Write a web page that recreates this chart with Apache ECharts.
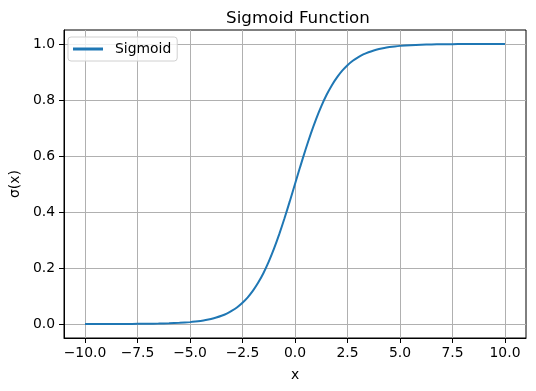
<!DOCTYPE html>
<html><head><meta charset="utf-8">
<script src="https://cdn.jsdelivr.net/npm/echarts@6/dist/echarts.min.js"></script>
<style>html,body{margin:0;padding:0;background:#fff}#c{width:536px;height:391px}</style>
</head><body><div id="c"></div>
<script>
const xValues = [-10,-9.5,-9,-8.5,-8,-7.5,-7,-6.5,-6,-5.5,-5,-4.75,-4.5,-4.25,-4,-3.75,-3.5,-3.25,-3,-2.75,-2.5,-2.25,-2,-1.75,-1.5,-1.25,-1,-0.75,-0.5,-0.25,0,0.25,0.5,0.75,1,1.25,1.5,1.75,2,2.25,2.5,2.75,3,3.25,3.5,3.75,4,4.25,4.5,4.75,5,5.5,6,6.5,7,7.5,8,8.5,9,9.5,10];
const sigmoidValues = [0.0000,0.0001,0.0001,0.0002,0.0003,0.0006,0.0009,0.0015,0.0025,0.0041,0.0067,0.0086,0.0110,0.0140,0.0180,0.0230,0.0293,0.0373,0.0474,0.0601,0.0759,0.0953,0.1192,0.1480,0.1824,0.2227,0.2689,0.3208,0.3775,0.4378,0.5000,0.5622,0.6225,0.6792,0.7311,0.7773,0.8176,0.8520,0.8808,0.9047,0.9241,0.9399,0.9526,0.9627,0.9707,0.9770,0.9820,0.9860,0.9890,0.9914,0.9933,0.9959,0.9975,0.9985,0.9991,0.9994,0.9997,0.9998,0.9999,0.9999,1.0000];
const xTicks = [-10,-7.5,-5,-2.5,0,2.5,5,7.5,10];
const yTicks = [0,0.2,0.4,0.6,0.8,1.0];

const font = 'DejaVu Sans';
const chart = echarts.init(document.getElementById('c'), null, {renderer:'canvas'});
chart.setOption({
  animation:false,
  backgroundColor:'#fff',
  title:{text:'Sigmoid Function', left:293, top:5, textAlign:'center',
    textStyle:{fontFamily:font,fontSize:16.7,fontWeight:'normal',color:'#000'}},
  legend:{show:true, left:68, top:37, orient:'vertical',
    backgroundColor:'rgba(255,255,255,0.8)', borderColor:'#d0d0d0', borderWidth:1, borderRadius:3,
    padding:[5,6,5,5], itemWidth:30, itemHeight:3, itemGap:5,
    textStyle:{fontFamily:font,fontSize:13.9,color:'#000', padding:[0,0,0,7]},
    data:[{name:'Sigmoid', icon:'rect'}]},
  grid:{left:61,right:10,top:30,bottom:53,show:true,borderColor:'#000',borderWidth:1,backgroundColor:'transparent'},
  xAxis:{type:'value', min:-11, max:11, name:'x', nameLocation:'middle', nameGap:30,
    nameTextStyle:{fontFamily:font,fontSize:13.9,color:'#000'},
    axisLine:{show:true,onZero:false,lineStyle:{color:'#000',width:1}},
    axisTick:{show:true,inside:false,length:5,lineStyle:{color:'#000'},customValues:xTicks},
    axisLabel:{show:true,margin:8,fontFamily:font,fontSize:13.9,color:'#000',customValues:xTicks,
      formatter:v=>(v<0?'\u2212':'')+Math.abs(v).toFixed(1)},
    splitLine:{show:true,lineStyle:{color:'#b0b0b0',width:1}}},
  yAxis:{type:'value', min:-0.05, max:1.05, name:'σ(x)', nameLocation:'middle', nameGap:42, nameRotate:90,
    nameTextStyle:{fontFamily:font,fontSize:13.9,color:'#000'},
    axisLine:{show:true,onZero:false,lineStyle:{color:'#000',width:1}},
    axisTick:{show:true,inside:false,length:5,lineStyle:{color:'#000'},customValues:yTicks},
    axisLabel:{show:true,margin:9,fontFamily:font,fontSize:13.9,color:'#000',customValues:yTicks,
      formatter:v=>v.toFixed(1)},
    splitLine:{show:true,lineStyle:{color:'#b0b0b0',width:1}}},
  series:[{name:'Sigmoid', type:'line', showSymbol:false, symbol:'none', smooth:0.2,
    data:xValues.map((x,i)=>[x,sigmoidValues[i]]),
    itemStyle:{color:'#1f77b4'},
    lineStyle:{color:'#1f77b4',width:2}}]
});
</script></body></html>
